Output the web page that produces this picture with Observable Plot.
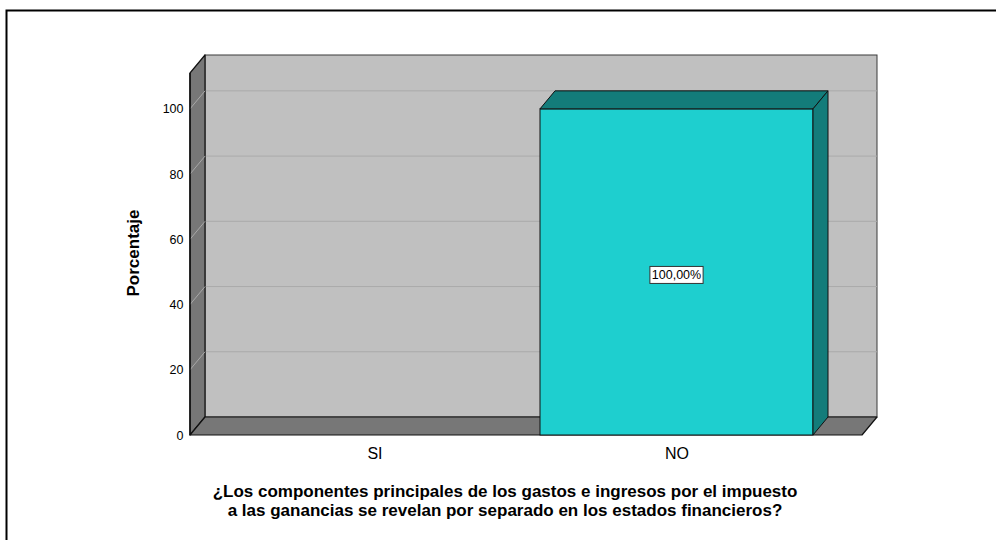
<!DOCTYPE html>
<html>
<head>
<meta charset="utf-8">
<script src="https://cdn.jsdelivr.net/npm/d3@7"></script>
<script src="https://cdn.jsdelivr.net/npm/@observablehq/plot@0.6"></script>
<style>
  html, body { margin: 0; padding: 0; background: #fff; }
  #chart { width: 996px; height: 540px; }
</style>
</head>
<body>
<div id="chart"></div>
<script>
// ---- data ----
const categories = ["SI", "NO"];
const percentages = [0, 100];
const valueLabels = ["", "100,00%"];
const yTicks = [0, 20, 40, 60, 80, 100];
const yTitle = "Porcentaje";
const xTitleLines = [
  "¿Los componentes principales de los gastos e ingresos por el impuesto",
  "a las ganancias se revelan por separado en los estados financieros?"
];

const rows = categories.map((c, i) => ({cat: c, pct: percentages[i], label: valueLabels[i]}));

// ---- style constants ----
const DX = 15, DY = -18;         // 3D depth offset in pixels
const FONT = "'Liberation Sans', Arial, Helvetica, sans-serif";

function ns(tag) { return d3.create("svg:" + tag); }

// outer border
function border() {
  const g = ns("g");
  g.append("rect").attr("x", 6.5).attr("y", 10.5).attr("width", 1200).attr("height", 1200)
    .attr("fill", "none").attr("stroke", "#000").attr("stroke-width", 2);
  return g.node();
}

// 3D walls and floor
function scene(index, scales, values, dims) {
  const y = scales.y;
  const L = dims.marginLeft, R = dims.width - dims.marginRight;
  const B = y(0), T = dims.marginTop;
  const g = ns("g");
  // back wall
  g.append("rect").attr("x", L + DX).attr("y", T + DY).attr("width", R - L).attr("height", B - T)
    .attr("fill", "#c0c0c0").attr("stroke", "#3a3a3a").attr("stroke-width", 1);
  // back gridlines
  for (const t of yTicks) {
    if (t === 0) continue;
    g.append("line").attr("x1", L + DX).attr("x2", R + DX).attr("y1", y(t) + DY).attr("y2", y(t) + DY)
      .attr("stroke", "#aaaaaa").attr("stroke-width", 1);
  }
  // left wall
  g.append("polygon")
    .attr("points", [[L, T], [L + DX, T + DY], [L + DX, B + DY], [L, B]].map(p => p.join(",")).join(" "))
    .attr("fill", "#777777").attr("stroke", "#111").attr("stroke-width", 1.2).attr("stroke-linejoin", "round");
  for (const t of yTicks) {
    if (t === 0) continue;
    g.append("line").attr("x1", L).attr("x2", L + DX).attr("y1", y(t)).attr("y2", y(t) + DY)
      .attr("stroke", "#a8a8a8").attr("stroke-width", 1);
  }
  // floor
  g.append("polygon")
    .attr("points", [[L, B], [L + DX, B + DY], [R + DX, B + DY], [R, B]].map(p => p.join(",")).join(" "))
    .attr("fill", "#777777").attr("stroke", "#111").attr("stroke-width", 1.2).attr("stroke-linejoin", "round");
  // front edge of the left wall
  g.append("line").attr("x1", L).attr("x2", L).attr("y1", T).attr("y2", B)
    .attr("stroke", "#111").attr("stroke-width", 1.5);
  return g.node();
}

// bar top and side faces + value labels
function bars3d(index, scales, values, dims) {
  const {x, y} = scales;
  const bw = x.bandwidth();
  const g = ns("g");
  rows.forEach(r => {
    if (!(r.pct > 0)) return;
    const x0 = x(r.cat), x1 = x0 + bw, y0 = y(0), y1 = y(r.pct);
    const pts = a => a.map(p => p.join(",")).join(" ");
    g.append("polygon").attr("points", pts([[x0, y1], [x0 + DX, y1 + DY], [x1 + DX, y1 + DY], [x1, y1]]))
      .attr("fill", "#137c7a").attr("stroke", "#111").attr("stroke-width", 1).attr("stroke-linejoin", "round");
    g.append("polygon").attr("points", pts([[x1, y1], [x1 + DX, y1 + DY], [x1 + DX, y0 + DY], [x1, y0]]))
      .attr("fill", "#137c7a").attr("stroke", "#111").attr("stroke-width", 1).attr("stroke-linejoin", "round");
  });
  return g.node();
}

function valueBoxes(index, scales, values, dims) {
  const {x, y} = scales;
  const bw = x.bandwidth();
  const g = ns("g");
  rows.forEach(r => {
    if (!r.label) return;
    const cx = x(r.cat) + bw / 2, cy = y(r.pct / 2) + 3;
    const w = r.label.length * 6.6 + 7, h = 17;
    g.append("rect").attr("x", cx - w / 2).attr("y", cy - h / 2).attr("width", w).attr("height", h)
      .attr("fill", "#fff").attr("stroke", "#333").attr("stroke-width", 1);
    g.append("text").attr("x", cx).attr("y", cy).attr("dy", "0.36em").attr("text-anchor", "middle")
      .attr("font-size", 12.5).attr("font-family", FONT).attr("fill", "#000").text(r.label);
  });
  return g.node();
}

function titles(index, scales, values, dims) {
  const g = ns("g").attr("font-family", FONT).attr("font-weight", "bold").attr("fill", "#000");
  g.append("text").attr("transform", "translate(139,253) rotate(-90)").attr("text-anchor", "middle")
    .attr("font-size", 17).text(yTitle);
  xTitleLines.forEach((line, i) => {
    g.append("text").attr("x", 505).attr("y", 497 + i * 19).attr("text-anchor", "middle")
      .attr("font-size", 17).text(line);
  });
  return g.node();
}

const chart = Plot.plot({
  width: 996,
  height: 540,
  marginLeft: 190,
  marginRight: 134,
  marginTop: 73,
  marginBottom: 105,
  style: {fontFamily: FONT, background: "#fff", color: "#000", overflow: "visible"},
  x: {type: "band", domain: categories, paddingInner: 0.096, paddingOuter: 0.16, axis: null, label: null},
  y: {domain: [0, 111], axis: null, label: null},
  marks: [
    border,
    scene,
    Plot.barY(rows, {x: "cat", y: "pct", fill: "#1ecfcf", stroke: "#111", strokeWidth: 1}),
    bars3d,
    valueBoxes,
    Plot.axisY(yTicks, {tickSize: 0, tickPadding: 7, fontSize: 12.5, label: null}),
    Plot.axisX(categories, {tickSize: 0, tickPadding: 12, fontSize: 16, label: null}),
    titles
  ]
});
document.getElementById("chart").appendChild(chart);
</script>
</body>
</html>
